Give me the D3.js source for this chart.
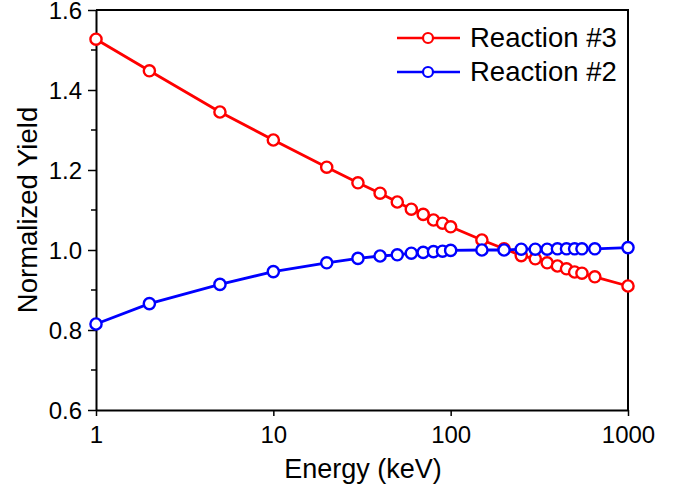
<!DOCTYPE html>
<html>
<head>
<meta charset="utf-8">
<script src="https://cdn.jsdelivr.net/npm/d3@7"></script>
<style>
  body { margin: 0; background: #fff; }
  text { font-family: Arial, "Liberation Sans", Helvetica, sans-serif; fill: #000; }
</style>
</head>
<body>
<svg width="683" height="491"></svg>
<script>
const energy3 = [1, 2, 5, 10, 20, 30, 40, 50, 60, 70, 80, 90, 100, 150, 200, 250, 300, 350, 400, 450, 500, 550, 650, 1000];
const yield3 = [1.527, 1.448, 1.345, 1.275, 1.207, 1.168, 1.142, 1.12, 1.102, 1.089, 1.075, 1.067, 1.058, 1.025, 1.003, 0.986, 0.978, 0.968, 0.96, 0.953, 0.945, 0.942, 0.933, 0.91];
const energy2 = [1, 2, 5, 10, 20, 30, 40, 50, 60, 70, 80, 90, 100, 150, 200, 250, 300, 350, 400, 450, 500, 550, 650, 1000];
const yield2 = [0.815, 0.866, 0.914, 0.946, 0.968, 0.979, 0.985, 0.988, 0.992, 0.994, 0.996, 0.997, 0.999, 1.0, 1.0, 1.002, 1.002, 1.002, 1.003, 1.003, 1.003, 1.003, 1.003, 1.006];
const xTicks = [1, 10, 100, 1000];
const yTicks = [0.6, 0.8, 1.0, 1.2, 1.4, 1.6];
const yMinor = [0.7, 0.9, 1.1, 1.3, 1.5];
const seriesNames = ["Reaction #3", "Reaction #2"];
const seriesColors = ["#ff0000", "#0000ff"];

const svg = d3.select("svg");
const mLeft = 96, mRight = 628, mTop = 10, mBottom = 410;

const x = d3.scaleLog().domain([1, 1000]).range([mLeft, mRight]);
const y = d3.scaleLinear().domain([0.6, 1.6]).range([mBottom, mTop]);

// frame (top + right)
svg.append("path")
  .attr("d", `M${mLeft},${mTop}H${mRight}V${mBottom}`)
  .attr("fill", "none")
  .attr("stroke", "#000")
  .attr("stroke-width", 2);

// x axis
const xAxis = svg.append("g")
  .attr("transform", `translate(0,${mBottom})`)
  .call(d3.axisBottom(x).tickValues(xTicks).tickFormat(d3.format("d")).tickSize(6).tickSizeOuter(0));
xAxis.select(".domain").attr("stroke-width", 2);
xAxis.selectAll(".tick line").attr("stroke-width", 1.5);
xAxis.selectAll("text").attr("font-size", 24).attr("dy", "1.02em");

// y axis
const yAxis = svg.append("g")
  .attr("transform", `translate(${mLeft},0)`)
  .call(d3.axisLeft(y).tickValues(yTicks).tickFormat(d3.format(".1f")).tickSize(8).tickPadding(6).tickSizeOuter(0));
yAxis.select(".domain").attr("stroke-width", 2);
yAxis.selectAll(".tick line").attr("stroke-width", 1.5);
yAxis.selectAll("text").attr("font-size", 24).attr("dy", "0.37em");

svg.append("g").selectAll("line")
  .data(yMinor)
  .join("line")
  .attr("x1", mLeft - 5).attr("x2", mLeft)
  .attr("y1", d => y(d)).attr("y2", d => y(d))
  .attr("stroke", "#000").attr("stroke-width", 1.5);

// axis titles
svg.append("text")
  .attr("x", 363)
  .attr("y", 478)
  .attr("text-anchor", "middle")
  .attr("font-size", 27)
  .text("Energy (keV)");

svg.append("text")
  .attr("transform", "translate(37,210) rotate(-90)")
  .attr("text-anchor", "middle")
  .attr("font-size", 27.5)
  .text("Normalized Yield");

// series
const series = [
  { name: seriesNames[0], color: seriesColors[0], pts: energy3.map((e, i) => [e, yield3[i]]) },
  { name: seriesNames[1], color: seriesColors[1], pts: energy2.map((e, i) => [e, yield2[i]]) }
];

const line = d3.line().x(d => x(d[0])).y(d => y(d[1]));

series.forEach(s => {
  svg.append("path")
    .datum(s.pts)
    .attr("d", line)
    .attr("fill", "none")
    .attr("stroke", s.color)
    .attr("stroke-width", 2.8);
  svg.append("g").selectAll("circle")
    .data(s.pts)
    .join("circle")
    .attr("cx", d => x(d[0]))
    .attr("cy", d => y(d[1]))
    .attr("r", 5.6)
    .attr("fill", "#fff")
    .attr("stroke", s.color)
    .attr("stroke-width", 2.4);
});

// legend
const legend = svg.append("g");
series.forEach((s, i) => {
  const ly = 38 + i * 34;
  legend.append("line")
    .attr("x1", 397).attr("x2", 460)
    .attr("y1", ly).attr("y2", ly)
    .attr("stroke", s.color).attr("stroke-width", 2.5);
  legend.append("circle")
    .attr("cx", 428).attr("cy", ly).attr("r", 5)
    .attr("fill", "#fff").attr("stroke", s.color).attr("stroke-width", 2.2);
  legend.append("text")
    .attr("x", 470).attr("y", ly + 9)
    .attr("font-size", 27.5)
    .text(s.name);
});
</script>
</body>
</html>
